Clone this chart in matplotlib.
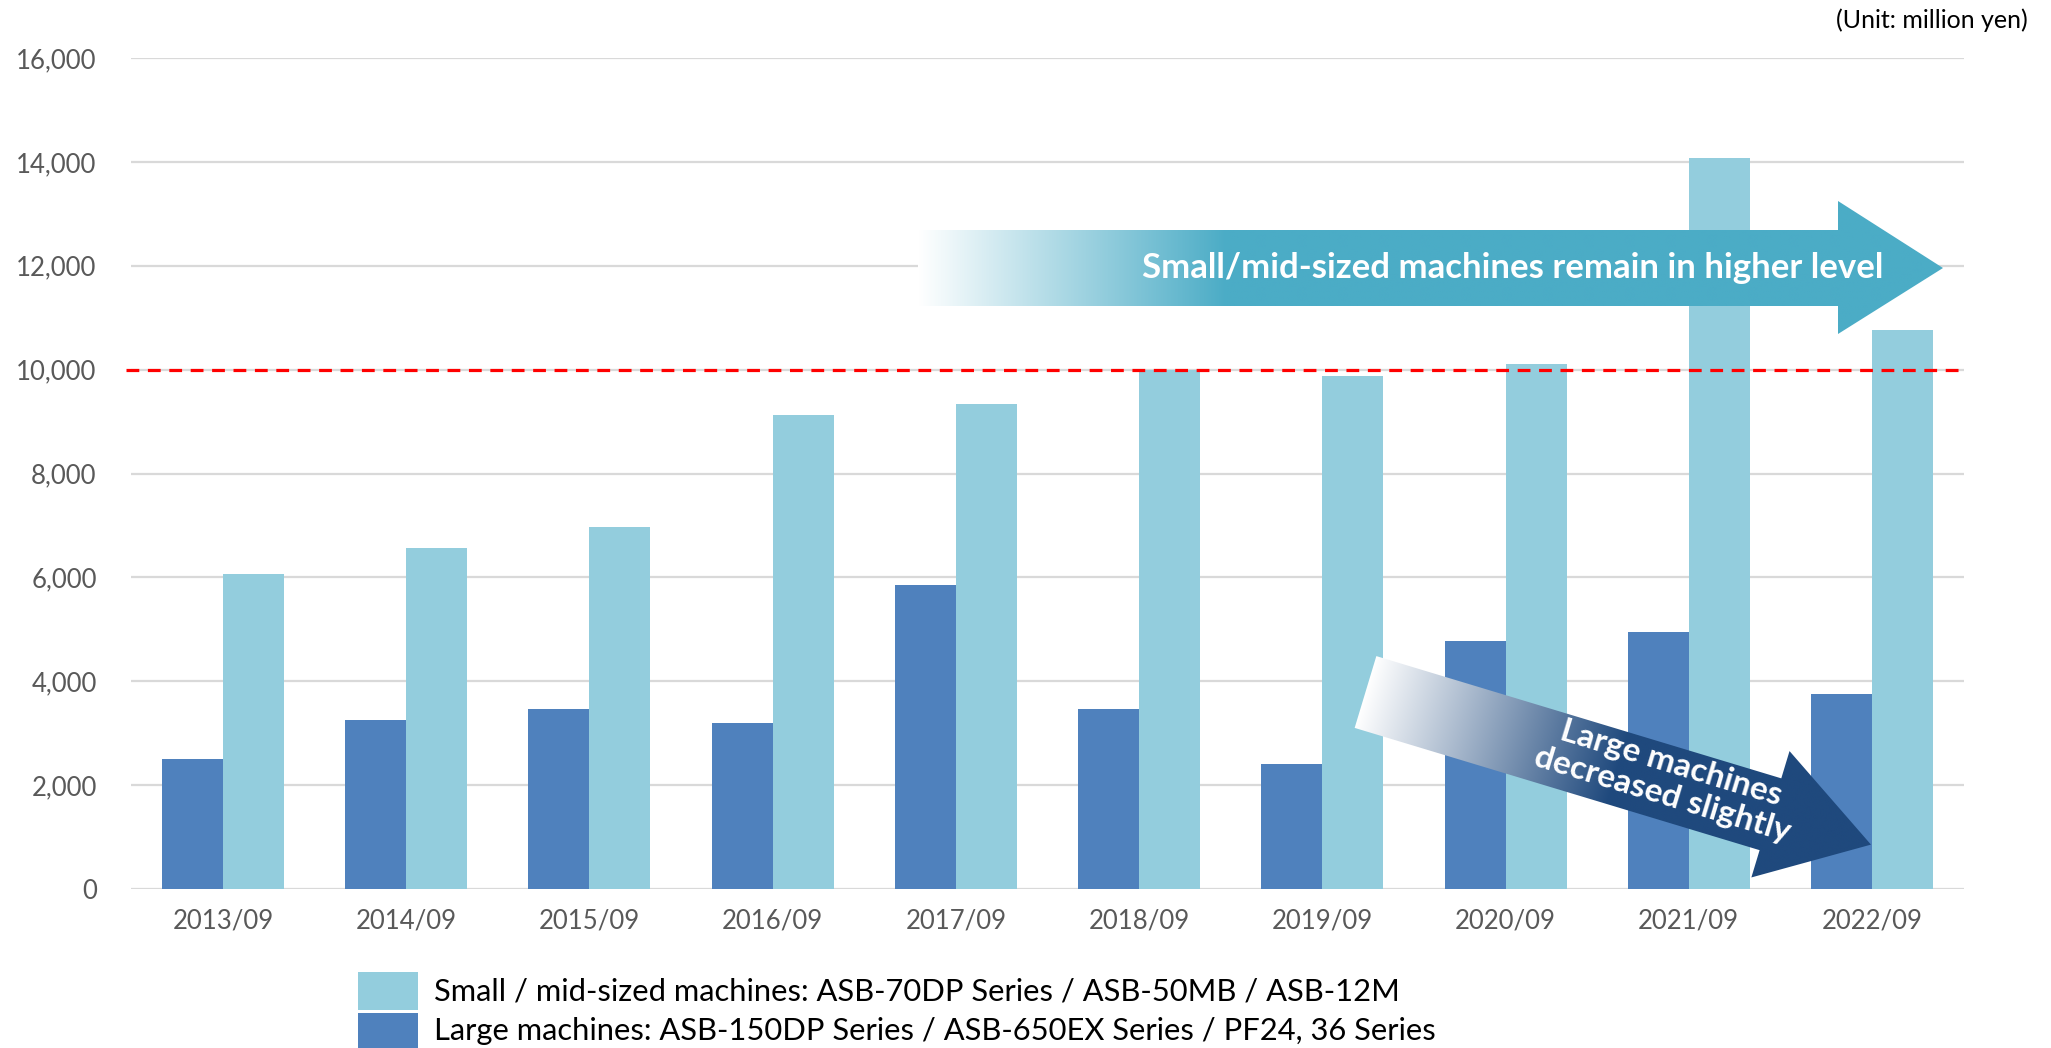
import numpy as np
import matplotlib
matplotlib.use("Agg")
from matplotlib import pyplot as plt
from matplotlib.patches import Polygon, Rectangle
from matplotlib import transforms
from matplotlib.colors import to_rgb

plt.rcParams['font.family'] = ['Lato', 'DejaVu Sans']

# data (million yen)
periods = ['2013/09', '2014/09', '2015/09', '2016/09', '2017/09',
           '2018/09', '2019/09', '2020/09', '2021/09', '2022/09']
large = [2500, 3250, 3460, 3190, 5860, 3460, 2400, 4770, 4940, 3750]
small = [6070, 6560, 6970, 9120, 9330, 9990, 9875, 10100, 14080, 10760]
yticks = list(range(0, 16001, 2000))
threshold = 10000

label_small = 'Small / mid-sized machines: ASB-70DP Series / ASB-50MB / ASB-12M'
label_large = 'Large machines: ASB-150DP Series / ASB-650EX Series / PF24, 36 Series'

c_large = '#4F81BD'
c_small = '#93CDDD'
c_teal = '#4BACC6'
c_navy = '#1F497D'

W, H = 2051, 1048
fig = plt.figure(figsize=(W / 100, H / 100), dpi=100)
ax = fig.add_axes([131.4 / W, 1 - 889 / H, (1963.6 - 131.4) / W, (889 - 58) / H])

x = np.arange(len(periods))
w = 0.333
ax.bar(x - w / 2, large, w, color=c_large, zorder=2)
ax.bar(x + w / 2, small, w, color=c_small, zorder=2)

ax.set_xlim(-0.5, len(periods) - 0.5)
ax.set_ylim(0, 16000)
ax.set_yticks(yticks)
ax.set_yticklabels(['{:,}'.format(v) for v in yticks])
ax.set_xticks(x)
ax.set_xticklabels(periods)
ax.tick_params(axis='both', length=0, labelsize=18.5, labelcolor='#595959')
ax.tick_params(axis='y', pad=25)
ax.tick_params(axis='x', pad=14)
ax.yaxis.grid(True, color='#D9D9D9', lw=1.6)
ax.set_axisbelow(True)
for s in ax.spines.values():
    s.set_visible(False)

# red dashed reference line at 10,000
ax.plot([-0.53, len(periods) - 0.5], [threshold, threshold], color='#FF0000',
        lw=2.3, dashes=(4, 2.7), zorder=3, clip_on=False)

# overlay in image pixel coords for the arrows + legend
ov = fig.add_axes([0, 0, 1, 1], zorder=5)
ov.set_xlim(0, W)
ov.set_ylim(H, 0)
ov.axis('off')
ov.patch.set_alpha(0)


def gradient_img(color, frac, n=400):
    rgb = np.array(to_rgb(color))
    t = np.clip(np.linspace(0, 1, n) / frac, 0, 1)
    img = (1 - t)[:, None] * np.ones(3) + t[:, None] * rgb
    return img[None, :, :]


# arrow 1: small/mid-sized, horizontal
pts1 = [(918, 230), (1838, 230), (1838, 201), (1943, 268), (1838, 334), (1838, 306), (918, 306)]
poly1 = Polygon(pts1, closed=True, facecolor='none', edgecolor='none')
ov.add_patch(poly1)
im1 = ov.imshow(gradient_img(c_teal, 0.3), extent=(918, 1943, 334, 201), aspect='auto',
                interpolation='bilinear')
im1.set_clip_path(poly1)
ov.text(1513, 268, 'Small/mid-sized machines remain in higher level', color='white',
        fontsize=25, fontweight='bold', ha='center', va='center')

# arrow 2: large machines, pointing down-right
L, bw, hw, hl = 528, 37.5, 66, 105
ang = 16.8
local = [(0, -bw), (L - hl, -bw), (L - hl, -hw), (L, 0), (L - hl, hw), (L - hl, bw), (0, bw)]
tr2 = transforms.Affine2D().rotate_deg(ang).translate(1365.5, 692) + ov.transData
poly2 = Polygon(local, closed=True, facecolor='none', edgecolor='none', transform=tr2)
ov.add_patch(poly2)
im2 = ov.imshow(gradient_img(c_navy, 0.5), extent=(0, L, -hw, hw), aspect='auto',
                interpolation='bilinear')
im2.set_transform(tr2)
im2.set_clip_path(poly2)
ov.text(1667, 779, 'Large machines\ndecreased slightly', color='white', fontsize=24,
        fontweight='bold', ha='center', va='center', rotation=-ang,
        rotation_mode='anchor', linespacing=1.12)

ov.set_xlim(0, W)
ov.set_ylim(H, 0)

# legend
ov.add_patch(Rectangle((358, 972), 60, 38, facecolor=c_small, edgecolor='none'))
ov.add_patch(Rectangle((358, 1013), 60, 38, facecolor=c_large, edgecolor='none'))
ov.text(434, 991, label_small, fontsize=22.2, va='center', ha='left', color='black')
ov.text(434, 1031, label_large, fontsize=22.2, va='center', ha='left', color='black')

ov.text(2028, 20, '(Unit: million yen)', fontsize=18, ha='right', va='center', color='black')

fig.savefig('out.png', dpi=100)
